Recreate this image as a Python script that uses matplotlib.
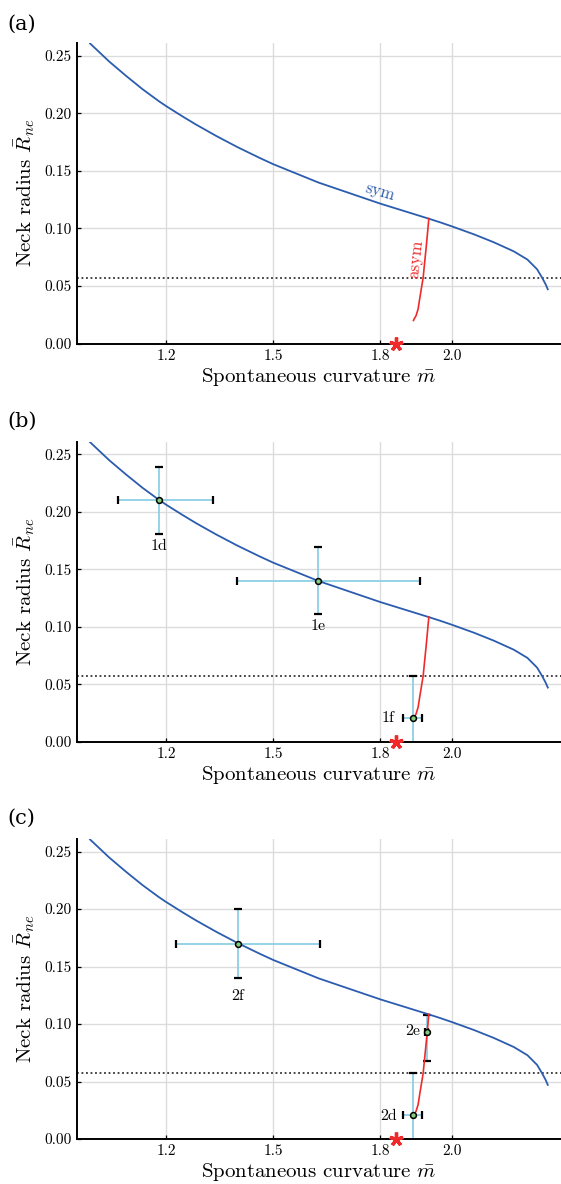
import matplotlib
matplotlib.use("Agg")
import matplotlib.pyplot as plt

# ---------------- data ----------------
sym_m = [0.9875, 1.0415, 1.0882, 1.1348, 1.18, 1.2, 1.2466, 1.284, 1.34, 1.40, 1.463,
         1.5, 1.627, 1.8, 1.936, 1.969, 2.0, 2.0625, 2.118, 2.174, 2.212, 2.239,
         2.253, 2.263, 2.269]
sym_r = [0.2606, 0.2448, 0.2325, 0.2208, 0.2105, 0.2063, 0.1972, 0.1902, 0.1804,
         0.1706, 0.1611, 0.1558, 0.1398, 0.1215, 0.1084, 0.1051, 0.1018, 0.0948,
         0.0879, 0.0800, 0.0729, 0.0645, 0.0572, 0.0514, 0.0471]

asym_m = [1.936, 1.929, 1.920, 1.911, 1.906, 1.900, 1.896, 1.893]
asym_r = [0.1085, 0.085, 0.057, 0.040, 0.030, 0.024, 0.022, 0.020]

dotted_r = 0.057
star_m = [1.844]
star_r = [0.0]

# panel (b) measurements
b_names = ['1d', '1e', '1f']
b_m = [1.180, 1.627, 1.891]
b_r = [0.210, 0.140, 0.021]
b_m_lo = [0.114, 0.227, 0.028]
b_m_hi = [0.152, 0.283, 0.027]
b_r_lo = [0.029, 0.029, 0.036]
b_r_hi = [0.029, 0.029, 0.036]
b_lab_m = [1.181, 1.627, 1.823]
b_lab_r = [0.170, 0.1005, 0.0203]

# panel (c) measurements
c_names = ['2f', '2e', '2d']
c_m = [1.401, 1.930, 1.891]
c_r = [0.170, 0.093, 0.021]
c_m_lo = [0.172, 0.004, 0.028]
c_m_hi = [0.230, 0.004, 0.027]
c_r_lo = [0.030, 0.025, 0.036]
c_r_hi = [0.030, 0.015, 0.036]
c_lab_m = [1.401, 1.892, 1.822]
c_lab_r = [0.124, 0.0935, 0.0197]

x_ticks = [1.2, 1.5, 1.8, 2.0]
x_ticklabels = ['1.2', '1.5', '1.8', '2.0']
y_ticks = [0.0, 0.05, 0.10, 0.15, 0.20, 0.25]
y_ticklabels = ['0.00', '0.05', '0.10', '0.15', '0.20', '0.25']
panel_labels = ['(a)', '(b)', '(c)']

# ---------------- style ----------------
plt.rcParams['font.family'] = 'serif'
plt.rcParams['font.serif'] = ['cmr10', 'DejaVu Serif']
plt.rcParams['mathtext.fontset'] = 'cm'
plt.rcParams['axes.formatter.use_mathtext'] = True

BLUE = '#2b5cae'
RED = '#f02a2a'
LBLUE = '#8dd0e6'
GREEN = '#86cc7e'
GRID = '#dcdcdc'

W, H = 561, 1184
fig = plt.figure(figsize=(W / 100, H / 100), dpi=100)

left_px = 77
axes_px = [(43, 343.5), (441.7, 741.7), (839, 1139)]
label_y_px = [24, 421, 818]

for i, (top, bot) in enumerate(axes_px):
    ax = fig.add_axes([left_px / W, 1 - bot / H, 1 - left_px / W, (bot - top) / H])
    ax.set_xlim(0.951, 2.306)
    ax.set_ylim(0, 0.261)
    ax.set_xticks(x_ticks)
    ax.set_xticklabels(x_ticklabels)
    ax.set_yticks(y_ticks)
    ax.set_yticklabels(y_ticklabels)
    ax.tick_params(direction='in', length=3, width=0.9, labelsize=11, pad=4)
    ax.grid(True, color=GRID, lw=1.0)
    ax.set_axisbelow(True)
    for s in ['top', 'right']:
        ax.spines[s].set_visible(False)
    for s in ['left', 'bottom']:
        ax.spines[s].set_linewidth(1.4)
        ax.spines[s].set_color('black')

    ax.plot(sym_m, sym_r, color=BLUE, lw=1.3, zorder=3)
    ax.plot(asym_m, asym_r, color=RED, lw=1.2, zorder=3)
    ax.axhline(dotted_r, color='#333333', ls=(0, (1, 1.5)), lw=1.3, zorder=2)
    ax.plot(star_m, star_r, ls='none', marker=(5, 2, 0), ms=10, mew=2.4,
            color=RED, clip_on=False, zorder=6)

    ax.set_xlabel(r'Spontaneous curvature $\bar{m}$', fontsize=15, labelpad=2)
    ax.set_ylabel(r'Neck radius $\bar{R}_{ne}$', fontsize=15, labelpad=5)

    fig.text(7 / W, 1 - label_y_px[i] / H, panel_labels[i], family='DejaVu Serif',
             fontsize=15, ha='left', va='center')

    if i == 0:
        ax.text(1.80, 0.1317, 'sym', color=BLUE, fontsize=12.3, rotation=-16,
                ha='center', va='center')
        ax.text(1.90, 0.073, 'asym', color=RED, fontsize=12.3, rotation=84,
                ha='center', va='center')
    else:
        if i == 1:
            m, r, mlo, mhi, rlo, rhi = b_m, b_r, b_m_lo, b_m_hi, b_r_lo, b_r_hi
            names, lm, lr = b_names, b_lab_m, b_lab_r
        else:
            m, r, mlo, mhi, rlo, rhi = c_m, c_r, c_m_lo, c_m_hi, c_r_lo, c_r_hi
            names, lm, lr = c_names, c_lab_m, c_lab_r
        eb = ax.errorbar(m, r, xerr=[mlo, mhi], yerr=[rlo, rhi], fmt='none',
                         ecolor=LBLUE, elinewidth=1.3, capsize=3, capthick=1.6,
                         zorder=2.5)
        for cl in eb[1]:
            cl.set_color('black')
            cl.set_markeredgecolor('black')
            cl.set_markerfacecolor('black')
        ax.plot(m, r, ls='none', marker='o', ms=4.2, mfc=GREEN, mec='black',
                mew=1.1, zorder=5)
        for nm, x, y in zip(names, lm, lr):
            ax.text(x, y, nm, fontsize=11.5, ha='center', va='center', zorder=6)

fig.savefig('out.png', dpi=100)
